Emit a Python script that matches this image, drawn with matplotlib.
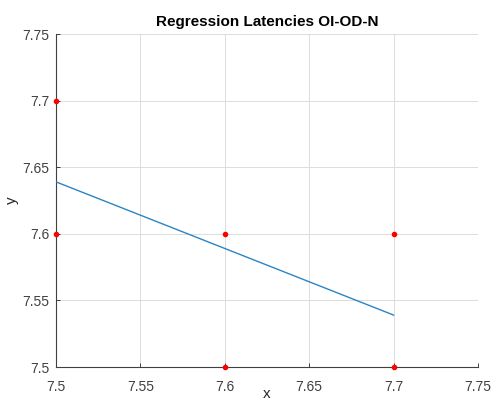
import numpy as np
import matplotlib
matplotlib.use("Agg")
import matplotlib.pyplot as plt

plt.rcParams['font.family'] = ['Liberation Sans', 'DejaVu Sans']

# data points
pts_x = [7.5, 7.5, 7.6, 7.6, 7.7, 7.7]
pts_y = [7.7, 7.6, 7.6, 7.5, 7.6, 7.5]

# fitted regression line
fit_x = [7.5, 7.7]
fit_y = [7.639, 7.539]

x_ticks = [7.5, 7.55, 7.6, 7.65, 7.7, 7.75]
y_ticks = [7.5, 7.55, 7.6, 7.65, 7.7, 7.75]

fig = plt.figure(figsize=(4.92, 4.03), dpi=100)
ax = fig.add_axes([0.1138, 0.0893, 0.8577, 0.8263])

ax.plot(fit_x, fit_y, color='#2a85c4', lw=1.0, zorder=3)
ax.plot(pts_x, pts_y, '.', color='#FF0000', ms=6, zorder=4, clip_on=False)

ax.set_xlim(7.5, 7.75)
ax.set_ylim(7.5, 7.75)
ax.set_xticks(x_ticks)
ax.set_yticks(y_ticks)
ax.set_xticklabels(['7.5', '7.55', '7.6', '7.65', '7.7', '7.75'])
ax.set_yticklabels(['7.5', '7.55', '7.6', '7.65', '7.7', '7.75'])

ax.grid(True, color='#dcdcdc', lw=0.7)
ax.set_axisbelow(True)
for s in ['top', 'right']:
    ax.spines[s].set_visible(False)
for s in ['left', 'bottom']:
    ax.spines[s].set_color('#404040')
    ax.spines[s].set_linewidth(0.8)
ax.tick_params(direction='in', length=3, width=0.7, colors='#404040',
               labelsize=10, labelcolor='#404040')
ax.tick_params(axis='x', pad=9)
ax.tick_params(axis='y', pad=5)

ax.set_xlabel('x', fontsize=11, color='#262626', va='center')
ax.set_ylabel('y', fontsize=11, color='#262626', va='center')
ax.xaxis.set_label_coords(0.5, -0.082)
ax.yaxis.set_label_coords(-0.104, 0.5)
ax.set_title('Regression Latencies OI-OD-N', fontsize=11, fontweight='bold',
             color='#000000', pad=6)

fig.savefig('out.png', dpi=100)
